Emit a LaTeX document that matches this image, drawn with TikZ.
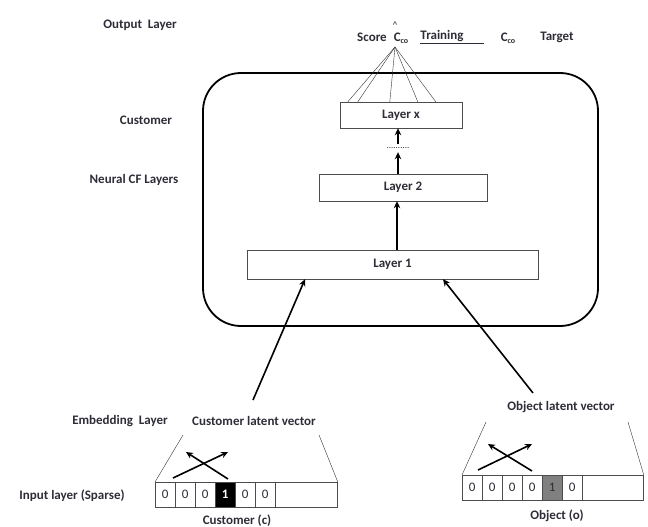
\documentclass[tikz,border=0pt]{standalone}
\usepackage{fontspec}
\setmainfont{Carlito}
\usetikzlibrary{arrows.meta,positioning,calc}
\definecolor{txtgray}{RGB}{45,45,55}
\newcommand{\Cco}{C\raisebox{-0.3ex}{\fontsize{8}{9}\selectfont co}}

\begin{document}
\begin{tikzpicture}[x=1pt, y=-1pt,
    lbl/.style   = {font=\bfseries\fontsize{13}{15}\selectfont, text=txtgray, inner sep=1pt},
    layer/.style = {draw=black!70, thin, lbl},
    cell/.style  = {draw=black!70, minimum width=20pt, minimum height=25pt, inner sep=0pt,
                    anchor=north west, font=\fontsize{13}{15}\selectfont, text=txtgray},
    arr/.style   = {-{Stealth[length=7pt,width=6.5pt]}, line width=1.6pt},
    fan/.style   = {black!80, thin},
    edge/.style  = {black!80, thin},
]
\useasboundingbox (0,0) rectangle (648,527);

% labels on the left
\node[lbl] (outl) at (140,25)  {Output\ \ Layer};
\node[lbl] (cust) at (146,120) {Customer};
\node[lbl] (ncf)  at (134,180) {Neural CF Layers};
\node[lbl] (emb)  at (120,421) {Embedding\ \ Layer};
\node[lbl] (inp)  at (72,496)  {Input layer (Sparse)};

% output row
\node[lbl] (score) at (372,37) {Score};
\node[lbl] (chat)  at (401,38) {\Cco};
\node[lbl, font=\fontsize{10}{10}\selectfont] (hat) at (395,25) {\textasciicircum};
\node[lbl] (train) at (452,37) {\underline{Training\hspace{20pt}}};
\node[lbl] (cco)   at (508,38) {\Cco};
\node[lbl] (targ)  at (557,37) {Target};
\coordinate (apex) at (395,47);

% neural CF block
\node[draw, line width=1.8pt, rounded corners=38pt, minimum width=395pt,
      minimum height=253pt] (frame) at (400.5,199.5) {};
\node[layer, minimum width=122pt, minimum height=26pt] (lx) at (401,115)   {Layer x};
\node[lbl, font=\fontsize{9}{9}\selectfont, minimum height=8pt, inner sep=0pt] (dots) at (398,148) {..........};
\node[layer, minimum width=168pt, minimum height=27pt] (l2) at (403,187.5) {Layer 2};
\node[layer, minimum width=291pt, minimum height=29pt] (l1) at (392.5,264.5) {Layer 1};

\foreach \dx in {8,18,50,78,96}
    \draw[fan] (apex) -- ([xshift=\dx pt]lx.north west);

\draw[arr] ([xshift=4.5pt]l1.north) -- ([xshift=4.5pt]l1.north |- l2.south);
\draw[arr] (l2.north -| dots) -- (dots.south);
\draw[arr] (dots.north) -- (lx.south -| dots);

% customer input
\node[lbl] (cvec) at (254,421) {Customer latent vector};
\foreach \v [count=\i] in {0,0,0,1,0,0}
    \node[cell] (c\i) at (155+20*\i-20,482) {\v};
\node[cell, fill=black, text=white, font=\bfseries\fontsize{13}{15}\selectfont] at (c4.north west) {1};
\node[cell, minimum width=62pt] (crest) at (c6.north east) {};
\node[lbl] (cname) at (237,521) {Customer (c)};
\coordinate (ctl) at (183,435);
\coordinate (ctr) at (319,435);
\draw[edge] (c1.north west) -- (ctl);
\draw[edge] (crest.north east) -- (ctr);
\draw[arr] (173,478) -- (228,452);
\draw[arr] (228,479) -- (186,452);

% object input
\node[lbl] (ovec) at (561,407) {Object latent vector};
\foreach \v [count=\i] in {0,0,0,0,1,0}
    \node[cell] (o\i) at (462+20*\i-20,475) {\v};
\node[cell, fill=black!50, text=txtgray] at (o5.north west) {1};
\node[cell, minimum width=61pt] (orest) at (o6.north east) {};
\node[lbl] (oname) at (557,516) {Object (o)};
\coordinate (otl) at (486,422);
\coordinate (otr) at (628,422);
\draw[edge] (o1.north west) -- (otl);
\draw[edge] (orest.north east) -- (otr);
\draw[arr] (478,470) -- (532,444);
\draw[arr] (532,471) -- (488,444);

% embeddings into layer 1
\coordinate (cup) at (253,400);
\coordinate (oup) at (533,393);
\draw[arr] (cup) -- (l1.south -| 305,0);
\draw[arr] (oup) -- (l1.south -| 443,0);
\end{tikzpicture}
\end{document}
